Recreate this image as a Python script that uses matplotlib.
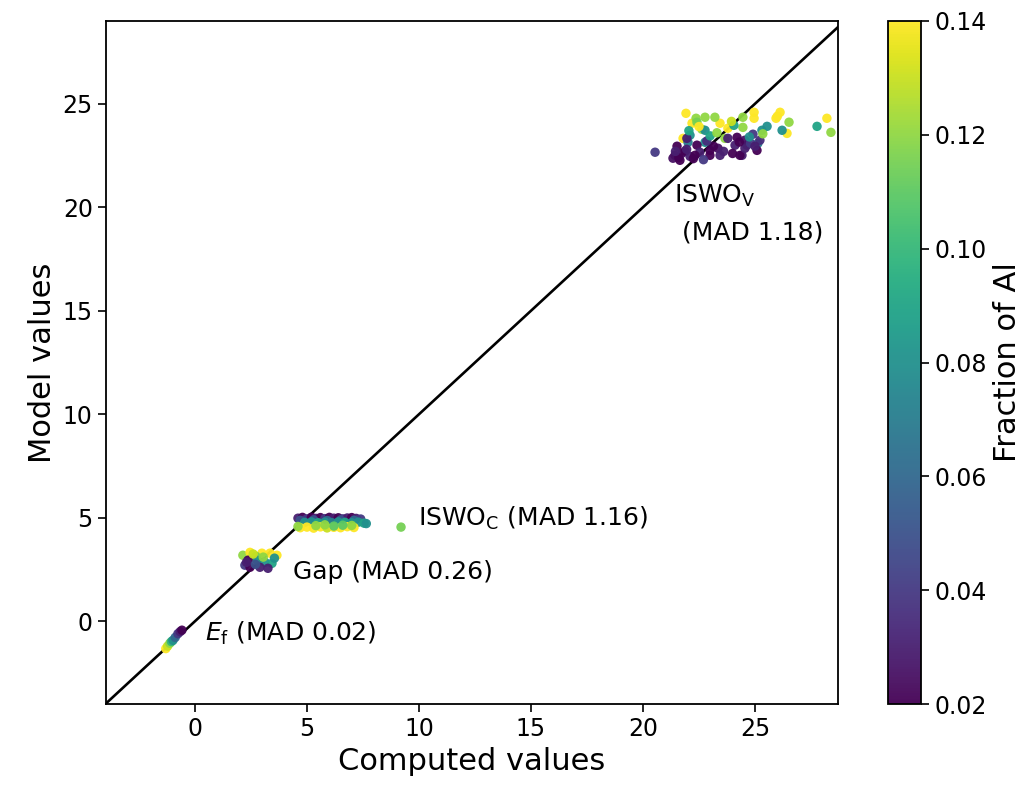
import matplotlib
matplotlib.use("Agg")
import matplotlib.pyplot as plt
import numpy as np

# ---- data ----
iswov_x = [21.92, 22.19, 23.44, 23.79, 21.79, 24.96, 24.96, 26.12, 25.94, 26.43, 28.21,
           22.37, 22.77, 23.21, 22.63, 24.46, 26.52, 28.39, 22.41, 23.66, 24.46,
           22.77, 22.01, 22.77, 24.06, 27.77, 25.54, 25.31, 26.21, 25.13, 22.10,
           20.54, 21.96, 24.91, 24.64, 24.42,
           21.52, 21.43, 21.74, 21.88, 22.10, 22.41, 22.54, 22.99, 23.35, 22.99, 23.44,
           22.32, 21.34, 21.65, 23.79, 24.20, 24.11, 24.33, 24.55, 24.55, 25.09, 25.22,
           21.60, 21.95, 22.25, 22.70, 23.15, 23.60, 24.00, 24.80, 25.00, 24.30, 21.45, 22.85,
           23.00, 23.30, 22.50, 24.75, 25.35, 26.00, 23.95, 22.05]
iswov_y = [24.54, 24.06, 24.06, 23.82, 23.33, 24.59, 24.30, 24.59, 24.30, 23.57, 24.30,
           24.30, 24.35, 24.35, 23.77, 23.86, 24.11, 23.62, 24.11, 23.33, 24.35,
           23.72, 23.14, 23.14, 23.96, 23.91, 23.91, 23.72, 23.72, 23.09, 23.48,
           22.66, 23.33, 23.53, 23.00, 22.51,
           22.95, 22.51, 22.61, 22.71, 22.46, 23.00, 22.66, 22.75, 22.85, 22.51, 22.51,
           22.51, 22.37, 22.27, 23.33, 23.38, 23.00, 22.51, 23.24, 22.85, 22.75, 23.24,
           22.40, 22.80, 22.35, 22.30, 22.95, 22.70, 22.60, 23.10, 22.95, 23.15, 22.70, 23.20,
           23.45, 23.60, 23.90, 23.40, 23.55, 24.40, 24.15, 23.70]
iswov_c = [0.14, 0.14, 0.14, 0.14, 0.14, 0.14, 0.14, 0.14, 0.14, 0.14, 0.14,
           0.12, 0.12, 0.12, 0.12, 0.12, 0.12, 0.12, 0.115, 0.12, 0.12,
           0.08, 0.07, 0.08, 0.09, 0.09, 0.08, 0.08, 0.08, 0.07, 0.08,
           0.04, 0.03, 0.04, 0.035, 0.03,
           0.02, 0.02, 0.025, 0.02, 0.03, 0.02, 0.03, 0.02, 0.025, 0.02, 0.03,
           0.02, 0.025, 0.02, 0.03, 0.02, 0.03, 0.02, 0.025, 0.03, 0.02, 0.035,
           0.02, 0.03, 0.02, 0.04, 0.02, 0.03, 0.02, 0.04, 0.03, 0.02, 0.03, 0.035,
           0.09, 0.12, 0.14, 0.08, 0.12, 0.14, 0.13, 0.09]

iswoc_x = [4.6, 4.8, 5.0, 5.2, 5.4, 5.6, 5.8, 6.0, 6.2, 6.4, 6.6, 6.8, 7.0, 7.2, 7.4,
           4.7, 5.3, 5.9, 6.5, 7.1,
           4.9, 5.2, 5.5, 5.8, 6.1, 6.4, 6.7, 7.0, 7.3, 7.55, 7.65,
           4.7, 5.0, 5.3, 5.6, 5.9, 6.2, 6.5, 6.8, 7.1,
           4.6, 5.4, 6.2, 7.0, 5.8, 6.6, 9.2]
iswoc_y = [4.98, 5.02, 4.95, 5.03, 4.97, 5.01, 4.96, 5.02, 4.98, 5.00, 4.95, 4.99, 5.01, 4.97, 4.94,
           4.88, 4.90, 4.87, 4.89, 4.88,
           4.78, 4.80, 4.76, 4.79, 4.77, 4.80, 4.78, 4.76, 4.79, 4.74, 4.72,
           4.52, 4.55, 4.50, 4.56, 4.51, 4.54, 4.52, 4.57, 4.53,
           4.58, 4.62, 4.60, 4.63, 4.66, 4.64, 4.55]
iswoc_c = [0.03, 0.02, 0.04, 0.02, 0.03, 0.02, 0.04, 0.02, 0.03, 0.02, 0.04, 0.03, 0.02, 0.03, 0.04,
           0.05, 0.05, 0.06, 0.05, 0.06,
           0.08, 0.08, 0.09, 0.08, 0.07, 0.08, 0.09, 0.08, 0.08, 0.09, 0.08,
           0.14, 0.14, 0.14, 0.14, 0.13, 0.14, 0.14, 0.14, 0.14,
           0.12, 0.12, 0.11, 0.12, 0.12, 0.11, 0.115]

gap_x = [2.14, 2.46, 2.99, 3.35, 3.66, 2.72, 2.77, 3.13, 3.44, 2.23, 2.46, 2.90, 3.26, 2.37,
         2.60, 3.05, 3.55, 2.30, 2.70]
gap_y = [3.19, 3.33, 3.29, 3.29, 3.19, 3.14, 2.95, 2.85, 2.80, 2.71, 2.61, 2.61, 2.56, 2.95,
         3.25, 3.10, 3.05, 2.85, 2.75]
gap_c = [0.12, 0.14, 0.14, 0.14, 0.14, 0.115, 0.08, 0.08, 0.09, 0.04, 0.02, 0.03, 0.03, 0.02,
         0.13, 0.12, 0.08, 0.03, 0.05]

ef_x = [-1.30, -1.22, -1.12, -1.05, -0.98, -0.88, -0.76, -0.66, -0.58]
ef_y = [-1.32, -1.20, -1.06, -0.98, -0.92, -0.78, -0.60, -0.50, -0.43]
ef_c = [0.14, 0.13, 0.12, 0.10, 0.08, 0.06, 0.04, 0.03, 0.02]

cbar_ticks = [0.02, 0.04, 0.06, 0.08, 0.10, 0.12, 0.14]

# ---- plot ----
fig = plt.figure(figsize=(10.33, 7.92), dpi=100)
ax = fig.add_axes([0.1026, 0.111, 0.7085, 0.8625])
cax = fig.add_axes([0.860, 0.111, 0.032, 0.8625])

all_x = ef_x + gap_x + iswoc_x + iswov_x
all_y = ef_y + gap_y + iswoc_y + iswov_y
all_c = ef_c + gap_c + iswoc_c + iswov_c

ax.plot([-5, 30], [-5, 30], color="black", lw=1.9, zorder=1)
sc = ax.scatter(all_x, all_y, c=all_c, cmap="viridis", vmin=0.02, vmax=0.14,
                s=46, linewidths=0, alpha=0.95, zorder=2)

ax.set_xlim(-3.97, 28.7)
ax.set_ylim(-4.0, 29.0)
ax.set_xticks([0, 5, 10, 15, 20, 25])
ax.set_yticks([0, 5, 10, 15, 20, 25])
ax.tick_params(labelsize=17, length=6, width=1.2)
for s in ax.spines.values():
    s.set_linewidth(1.3)
ax.set_xlabel("Computed values", fontsize=22)
ax.set_ylabel("Model values", fontsize=22)

fs = 18
ax.text(0.45, -0.58, r"$E_\mathrm{f}$ (MAD 0.02)", fontsize=fs, ha="left", va="center")
ax.text(4.38, 2.37, "Gap (MAD 0.26)", fontsize=fs, ha="left", va="center")
ax.text(9.96, 4.98, r"ISWO$_\mathrm{C}$ (MAD 1.16)", fontsize=fs, ha="left", va="center")
ax.text(21.4, 19.7, "ISWO$_\\mathrm{V}$\n (MAD 1.18)", fontsize=fs, ha="left", va="center",
        linespacing=1.6)

cb = fig.colorbar(sc, cax=cax, ticks=cbar_ticks)
cb.ax.tick_params(labelsize=17, length=6, width=1.2)
cb.set_label("Fraction of Al", fontsize=22)
cb.outline.set_linewidth(1.3)

fig.savefig("out.png", dpi=100)
